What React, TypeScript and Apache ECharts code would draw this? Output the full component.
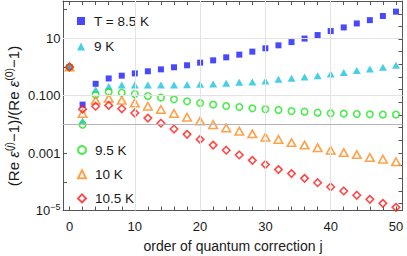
import React, { useEffect, useRef } from 'react';
import * as echarts from 'echarts';

const orders = [0, 2, 4, 6, 8, 10, 12, 14, 16, 18, 20, 22, 24, 26, 28, 30, 32, 34, 36, 38, 40, 42, 44, 46, 48, 50];

const ratioT85 = [1, 0.049, 0.26, 0.4, 0.5, 0.6, 0.71, 0.83, 0.98, 1.15, 1.42, 1.71, 2.18, 2.7, 3.44, 4.5, 5.7, 7.4, 9.8, 13, 17.9, 24, 33, 43, 60, 85];
const ratioT9 = [1, 0.0132, 0.163, 0.21, 0.236, 0.238, 0.237, 0.236, 0.238, 0.24, 0.249, 0.256, 0.27, 0.293, 0.3, 0.325, 0.372, 0.404, 0.449, 0.5, 0.57, 0.65, 0.75, 0.85, 0.98, 1.15];
const ratioT95 = [1, 0.0098, 0.109, 0.134, 0.128, 0.115, 0.098, 0.086, 0.075, 0.064, 0.0557, 0.049, 0.0437, 0.0404, 0.0363, 0.0336, 0.032, 0.0293, 0.0278, 0.0257, 0.0244, 0.0238, 0.023, 0.0225, 0.022, 0.022];
const ratioT10 = [1, 0.024, 0.069, 0.081, 0.069, 0.056, 0.043, 0.033, 0.024, 0.0178, 0.0131, 0.0098, 0.0075, 0.0058, 0.0047, 0.0036, 0.003, 0.00232, 0.00191, 0.00155, 0.00126, 0.00104, 0.00089, 0.00071, 0.00061, 0.0005];
const ratioT105 = [1, 0.034, 0.043, 0.046, 0.035, 0.025, 0.0166, 0.011, 0.0069, 0.0045, 0.003, 0.0019, 0.00126, 0.00086, 0.00056, 0.0004, 0.000266, 0.000193, 0.000132, 0.000093, 0.000066, 0.000048, 0.000034, 0.0000245, 0.0000178, 0.0000129];

const seriesNames = ['T = 8.5 K', '9 K', '9.5 K', '10 K', '10.5 K'];
const topLegendNames = ['T = 8.5 K', '9 K'];
const bottomLegendNames = ['9.5 K', '10 K', '10.5 K'];

const xTickValues = [0, 2, 4, 6, 8, 10, 12, 14, 16, 18, 20, 22, 24, 26, 28, 30, 32, 34, 36, 38, 40, 42, 44, 46, 48, 50];
const xLabelValues = [0, 10, 20, 30, 40, 50];
const xGridValues = [10, 20, 30, 40];
const yGridValues = [10, 0.1, 0.001];
const referenceLevel = 0.007;
const yLabelByExponent: Record<string, string> = {
  '1': '10',
  '-1': '0.100',
  '-3': '0.001',
  '-5': '{b|10}{s|−5}',
};
const rightTickValues = [0.55, 1.55, 2.55, 3.55, 4.55, 5.55, 6.55, 7.55, 8.55, 9.55, 10.55, 11.55, 12.55, 13.55, 14.55, 15.55, 16.55];

const FONT = 'Liberation Sans, Arial, Helvetica, sans-serif';
const FRAME = '#555555';
const TEXT = '#1a1a1a';

function scatter(name: string, values: number[], symbol: string, size: number | number[], itemStyle: any) {
  return {
    type: 'scatter',
    name,
    xAxisIndex: 0,
    yAxisIndex: 0,
    data: orders.map((j, i) => [j, values[i]]),
    symbol,
    symbolSize: size,
    itemStyle,
    z: 3,
  };
}

export default function App() {
  const ref = useRef<HTMLDivElement>(null);
  useEffect(() => {
    const chart = echarts.init(ref.current!, null, { renderer: 'svg' });
    const legendCommon = {
      orient: 'vertical',
      left: 72,
      itemWidth: 8,
      itemHeight: 8,
      textStyle: { fontSize: 13.5, color: TEXT, fontFamily: FONT, lineHeight: 14, padding: [0, 0, 0, 4] },
      selectedMode: false,
    };
    const option: any = {
      animation: false,
      textStyle: { fontFamily: FONT },
      grid: { left: 63, right: 4.5, top: 1, bottom: 45.5 },
      legend: [
        { ...legendCommon, data: topLegendNames, top: 9, itemGap: 11.5 },
        { ...legendCommon, data: bottomLegendNames, top: 138, itemGap: 10.2 },
      ],
      xAxis: [
        {
          type: 'value',
          min: -1,
          max: 51,
          position: 'bottom',
          axisLine: { onZero: false, lineStyle: { color: FRAME, width: 1 } },
          axisTick: { inside: true, length: 4, customValues: xTickValues, lineStyle: { color: FRAME } },
          axisLabel: { customValues: xLabelValues, fontSize: 13, color: TEXT, margin: 9, fontFamily: FONT },
          splitLine: { show: false },
        },
        {
          type: 'value',
          min: -1,
          max: 51,
          position: 'top',
          axisLine: { onZero: false, lineStyle: { color: FRAME, width: 1 } },
          axisTick: { inside: true, length: 4, customValues: xTickValues, lineStyle: { color: FRAME } },
          axisLabel: { show: false },
          splitLine: { show: false },
        },
      ],
      yAxis: [
        {
          type: 'log',
          logBase: 10,
          min: 1e-5,
          max: 200,
          position: 'left',
          axisLine: { onZero: false, lineStyle: { color: FRAME, width: 1 } },
          axisTick: { inside: true, length: 4, lineStyle: { color: FRAME } },
          axisLabel: {
            fontSize: 13,
            color: TEXT,
            margin: 2.5,
            fontFamily: FONT,
            showMinLabel: true,
            showMaxLabel: false,
            formatter: (v: number) => {
              const e = Math.log10(v);
              const r = Math.round(e);
              if (Math.abs(e - r) > 0.01) return '';
              return yLabelByExponent[String(r)] || '';
            },
            rich: {
              b: { fontSize: 13, color: TEXT, fontFamily: FONT },
              s: { fontSize: 9, color: TEXT, fontFamily: FONT, verticalAlign: 'bottom', padding: [0, 0, 8, 0] },
            },
          },
          splitLine: { show: false },
        },
        {
          type: 'value',
          min: 0,
          max: 16.56,
          position: 'right',
          axisLine: { onZero: false, lineStyle: { color: FRAME, width: 1 } },
          axisTick: { inside: true, length: 4, customValues: rightTickValues, lineStyle: { color: FRAME } },
          axisLabel: { show: false },
          splitLine: { show: false },
        },
      ],
      graphic: [
        {
          type: 'text',
          x: 13,
          y: 116,
          rotation: Math.PI / 2,
          style: {
            text: '{a|(Re }{i|ε}{s|(}{si|j}{s|)}{a|−1)/(Re }{i|ε}{s|(0)}{a|−1)}',
            align: 'center',
            verticalAlign: 'middle',
            rich: {
              a: { fontSize: 15, fill: TEXT, fontFamily: FONT },
              i: { fontSize: 15, fill: TEXT, fontFamily: FONT, fontStyle: 'italic' },
              s: { fontSize: 10.5, fill: TEXT, fontFamily: FONT, verticalAlign: 'bottom', padding: [0, 0, 9, 0] },
              si: { fontSize: 10.5, fill: TEXT, fontFamily: FONT, fontStyle: 'italic', verticalAlign: 'bottom', padding: [0, 0, 9, 0] },
            },
          },
        },
        {
          type: 'text',
          x: 233,
          y: 246,
          style: {
            text: 'order of quantum correction j',
            fontSize: 14,
            fontFamily: FONT,
            fill: TEXT,
            align: 'center',
            verticalAlign: 'middle',
          },
        },
      ],
      series: [
        {
          type: 'scatter',
          name: 'grid',
          data: [],
          z: 1,
          silent: true,
          markLine: {
            silent: true,
            symbol: 'none',
            animation: false,
            label: { show: false },
            data: [
              ...xGridValues.map((x) => ({ xAxis: x, lineStyle: { color: '#e3e3e3', width: 1, type: 'solid' } })),
              ...yGridValues.map((y) => ({ yAxis: y, lineStyle: { color: '#e3e3e3', width: 1, type: 'solid' } })),
              { yAxis: referenceLevel, lineStyle: { color: '#b4b4b4', width: 1, type: 'solid' } },
            ],
          },
        },
        scatter(seriesNames[0], ratioT85, 'rect', 6, { color: '#1a1aff' }),
        scatter(seriesNames[1], ratioT9, 'triangle', [8, 7], { color: '#19c3e0' }),
        scatter(seriesNames[2], ratioT95, 'circle', 6.5, { color: 'rgba(255,255,255,0)', borderColor: '#22e622', borderWidth: 1.6 }),
        scatter(seriesNames[3], ratioT10, 'triangle', [8.5, 7.5], { color: 'rgba(255,255,255,0)', borderColor: '#ff8a1c', borderWidth: 1.6 }),
        scatter(seriesNames[4], ratioT105, 'diamond', 7.5, { color: 'rgba(255,255,255,0)', borderColor: '#ff1a1a', borderWidth: 1.6 }),
      ],
    };
    chart.setOption(option);
    return () => chart.dispose();
  }, []);
  return <div ref={ref} style={{ position: 'absolute', left: 0, top: 0, width: 407, height: 256 }} />;
}
